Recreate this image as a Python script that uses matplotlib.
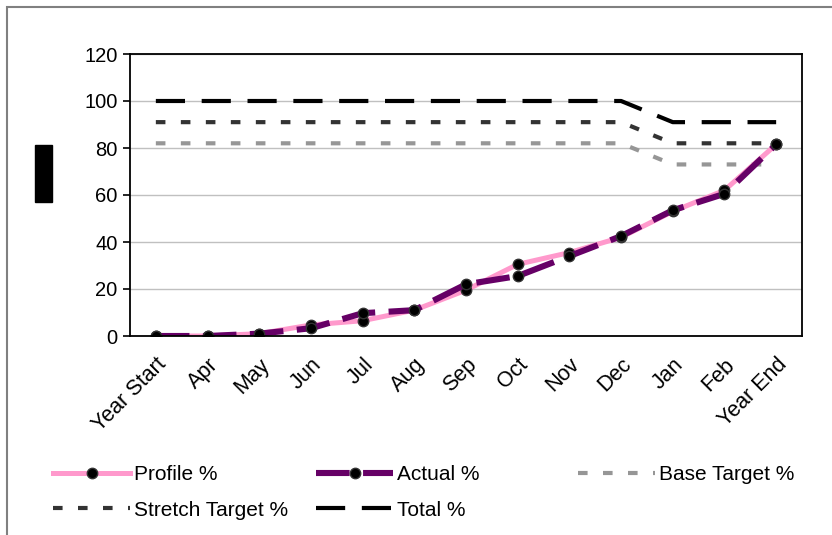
import matplotlib.pyplot as plt
from matplotlib.patches import Rectangle

plt.rcParams.update({
    "font.family": ["Liberation Sans", "DejaVu Sans"],
    "font.size": 15,
})

MONTHS = ["Year Start", "Apr", "May", "Jun", "Jul", "Aug", "Sep",
          "Oct", "Nov", "Dec", "Jan", "Feb", "Year End"]
PROFILE = [0, 0, 1, 4.7, 6.5, 11, 19.5, 30.5, 35.5, 42, 53, 62, 81.5]
ACTUAL = [0, 0, 1, 3.3, 9.7, 11, 22, 25.5, 34, 42.5, 53.5, 60.5, 81.5]
BASE = [82, 82, 82, 82, 82, 82, 82, 82, 82, 82, 73, 73, 73]
STRETCH = [91, 91, 91, 91, 91, 91, 91, 91, 91, 91, 82, 82, 82]
TOTAL = [100, 100, 100, 100, 100, 100, 100, 100, 100, 100, 91, 91, 91]
Y_TICKS = [0, 20, 40, 60, 80, 100, 120]

fig = plt.figure(figsize=(8.32, 5.35), dpi=100)
ax = fig.add_axes([130 / 832, 1 - 336 / 535, 672 / 832, 282 / 535])

x = list(range(len(MONTHS)))

# target lines underneath
ax.plot(x, BASE, color="#969696", lw=3.0, dashes=(2.3, 3.7), label="Base Target %")
ax.plot(x, STRETCH, color="#333333", lw=3.0, dashes=(2.3, 3.7), label="Stretch Target %")
ax.plot(x, TOTAL, color="black", lw=3.0, dashes=(7, 4), label="Total %")

# progress lines
ax.plot(x, PROFILE, color="#FF99CC", lw=3.6, marker="o", markersize=7.5,
        markerfacecolor="black", markeredgecolor="#333333", label="Profile %")
ax.plot(x, ACTUAL, color="#660066", lw=4.4, dashes=(5.5, 2.2), marker="o",
        markersize=7.5, markerfacecolor="black", markeredgecolor="#333333",
        label="Actual %")

ax.set_xlim(-0.5, len(MONTHS) - 0.5)
ax.set_ylim(0, 120)
ax.set_yticks(Y_TICKS)
ax.set_xticks(x)
ax.set_xticklabels(MONTHS, rotation=45, ha="right", rotation_mode="anchor",
                   fontsize=15.5)
ax.tick_params(axis="x", length=0, pad=13)
ax.tick_params(axis="y", length=5, width=1.2, pad=4, labelsize=14.5)
ax.yaxis.grid(True, color="#C0C0C0", lw=1.0)
ax.set_axisbelow(True)
for s in ax.spines.values():
    s.set_linewidth(1.3)
    s.set_color("black")

# black block where the axis title sits
fig.patches.append(Rectangle((35 / 832, 1 - 202 / 535), 17 / 832, 57 / 535,
                             transform=fig.transFigure, color="black"))
# outer chart border
fig.patches.append(Rectangle((7 / 832, -0.05), 1.0, 1.05 - 7 / 535,
                             transform=fig.transFigure, fill=False,
                             edgecolor="#808080", lw=1.5))

handles = {ln.get_label(): ln for ln in ax.get_lines()}
leg_kw = dict(frameon=False, handlelength=3.7, handletextpad=0.2,
              labelspacing=0.8, borderaxespad=0, borderpad=0,
              fontsize=15, numpoints=1)
cols = [
    (["Profile %", "Stretch Target %"], 53),
    (["Actual %", "Total %"], 316),
    (["Base Target %"], 578),
]
for labels, px in cols:
    fig.legend([handles[k] for k in labels], labels, loc="upper left",
               bbox_to_anchor=(px / 832, 1 - 465 / 535), **leg_kw)

fig.savefig("out.png", dpi=100)
